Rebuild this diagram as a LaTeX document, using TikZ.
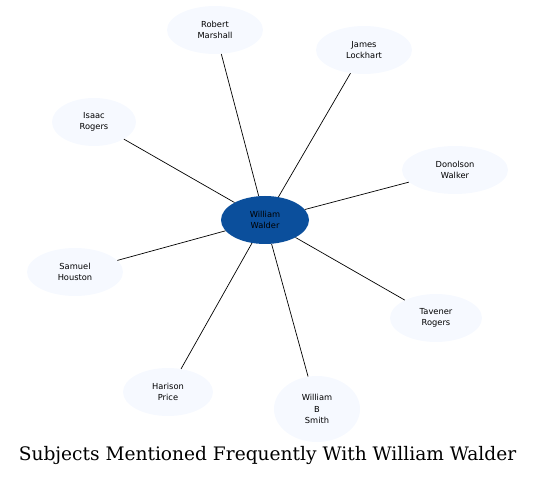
\documentclass[tikz,border=0pt]{standalone}
\usepackage{fontspec}
\newfontfamily\nodefont{DejaVu Sans}
\newfontfamily\titlefont{DejaVu Serif}
\usetikzlibrary{shapes.geometric}
\definecolor{centerblue}{HTML}{0B4F9C}
\definecolor{paleblue}{HTML}{F6F9FF}
\begin{document}
\begin{tikzpicture}[x=1pt,y=-1pt,
  person/.style={ellipse,fill=paleblue,draw=none,inner sep=0pt,align=center,
    font=\nodefont\fontsize{8.3}{11.5}\selectfont},
  hub/.style={ellipse,fill=centerblue,draw=none,inner sep=0pt,align=center,
    font=\nodefont\fontsize{8.3}{11.5}\selectfont},
  link/.style={draw=black,line width=0.7pt}]
\useasboundingbox (0,0) rectangle (536,478);
\node[hub,minimum width=88,minimum height=48] (ww) at (265,220) {William\\Walder};
\node[person,minimum width=96,minimum height=48] (rm) at (215,30) {Robert\\Marshall};
\node[person,minimum width=96,minimum height=48] (jl) at (364,50) {James\\Lockhart};
\node[person,minimum width=84,minimum height=48] (ir) at (94,122) {Isaac\\Rogers};
\node[person,minimum width=106,minimum height=48] (dw) at (455,170) {Donolson\\Walker};
\node[person,minimum width=96,minimum height=48] (sh) at (75,272) {Samuel\\Houston};
\node[person,minimum width=92,minimum height=48] (tr) at (436,318) {Tavener\\Rogers};
\node[person,minimum width=90,minimum height=48] (hp) at (168,392) {Harison\\Price};
\node[person,minimum width=86,minimum height=66] (ws) at (317,409) {William\\B\\Smith};
\foreach \n in {rm,jl,ir,dw,sh,tr,hp,ws}
  \draw[link] (ww) -- (\n);
\node[font=\titlefont\fontsize{18.6}{21}\selectfont] (title) at (267.5,456) {Subjects Mentioned Frequently With William Walder};
\end{tikzpicture}
\end{document}
